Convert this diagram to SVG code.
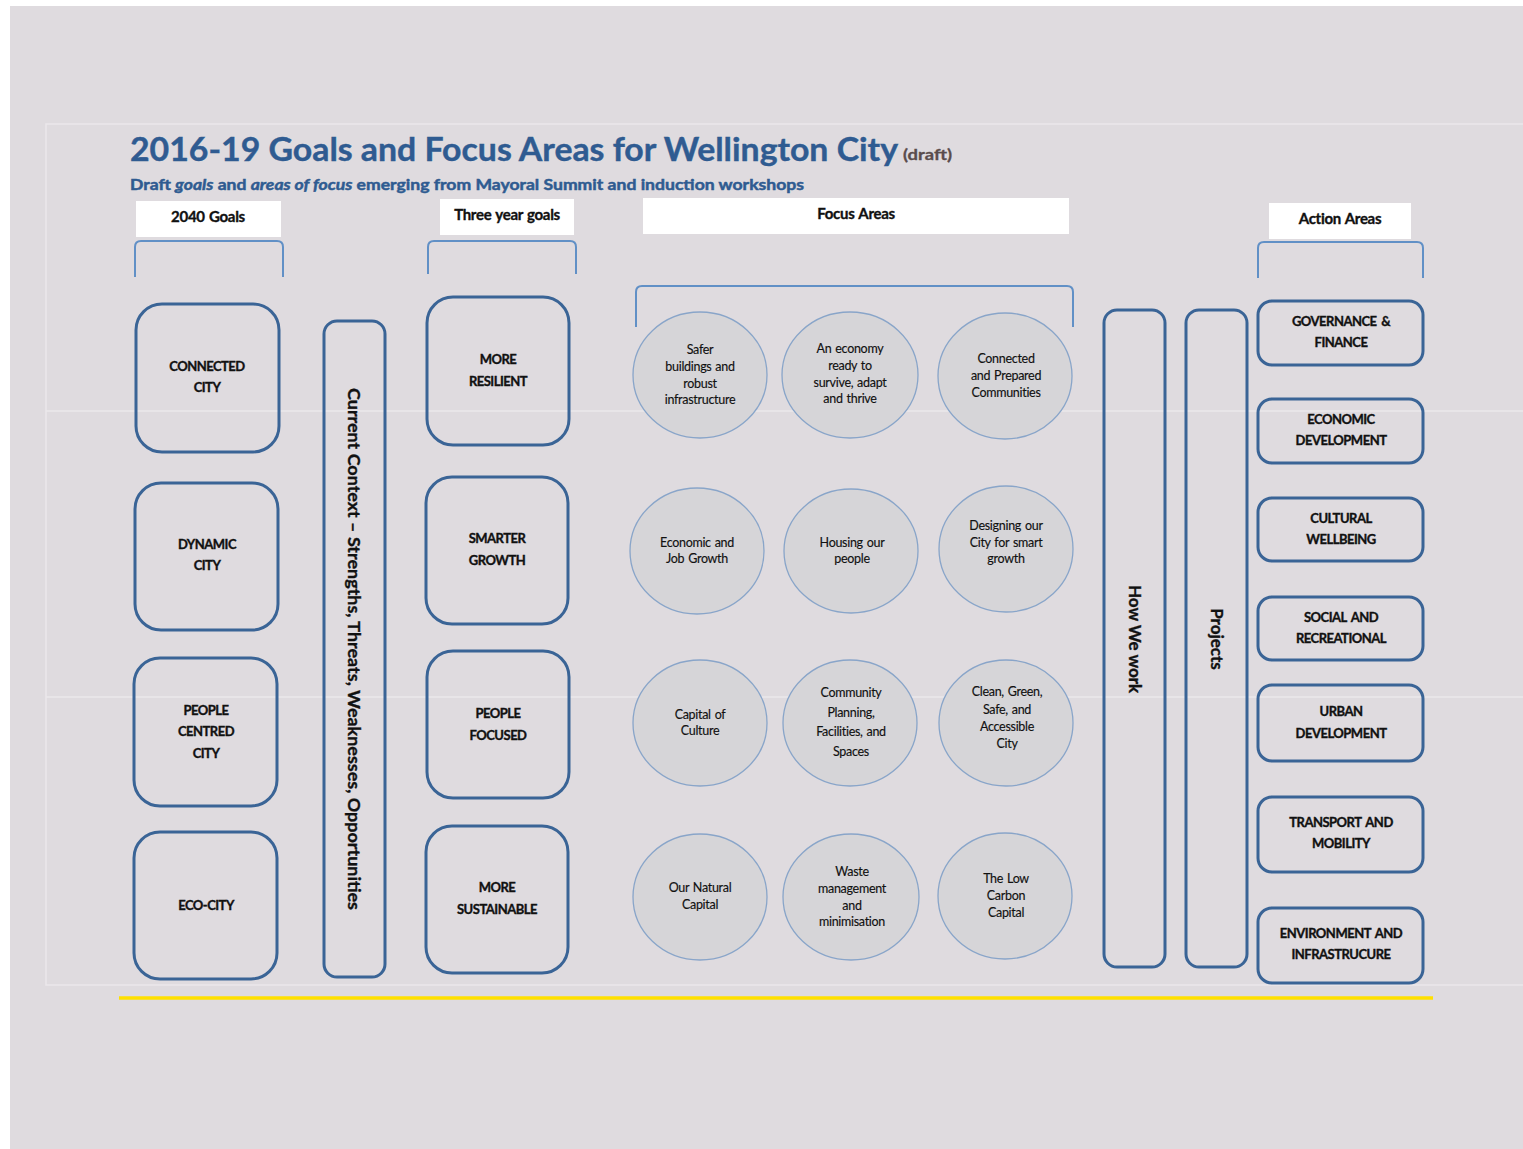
<svg xmlns="http://www.w3.org/2000/svg" width="1523" height="1149" viewBox="0 0 1523 1149">
<defs>
<style>
.bg{fill:#dfdbdf}
.pl{stroke:#ebe8eb;stroke-width:1.5;fill:none}
.hdr{fill:#ffffff}
.ht{font-family:Lato,'Liberation Sans',sans-serif;font-weight:700;font-size:15px;fill:#111;stroke:#111;stroke-width:0.35px;text-anchor:middle;letter-spacing:-0.3px;word-spacing:1px}
.br{fill:none;stroke:#6190c6;stroke-width:2}
.box{fill:none;stroke:#3a6496;stroke-width:3}
.bt{font-family:Lato,'Liberation Sans',sans-serif;font-weight:700;font-size:13px;fill:#111;stroke:#111;stroke-width:0.35px;text-anchor:middle;letter-spacing:-0.5px;word-spacing:2px}
.cir{fill:#d6d5d8;stroke:#89a5c9;stroke-width:1.3}
.ct{font-family:Lato,'Liberation Sans',sans-serif;font-size:12.5px;fill:#111;stroke:#111;stroke-width:0.15px;text-anchor:middle;letter-spacing:-0.3px;word-spacing:1px}
.vt{font-family:Lato,'Liberation Sans',sans-serif;font-weight:700;font-size:17px;fill:#111;stroke:#111;stroke-width:0.35px;text-anchor:middle}
</style>
</defs>
<rect x="0" y="0" width="1523" height="1149" fill="#ffffff"/>
<rect class="bg" x="10" y="6" width="1513" height="1143"/>
<g id="panel">
<path class="pl" d="M1523 124 H46 V985 H1523"/>
<line class="pl" x1="46" y1="411" x2="1523" y2="411"/>
<line class="pl" x1="46" y1="697" x2="1523" y2="697"/>
</g>
<g id="title">
<text x="130" y="161" font-family="Lato,'Liberation Sans',sans-serif" font-weight="700" font-size="32" fill="#2f5b91" stroke="#2f5b91" stroke-width="0.4" textLength="768" lengthAdjust="spacingAndGlyphs">2016-19 Goals and Focus Areas for Wellington City</text>
<text x="903" y="160" font-family="Lato,'Liberation Sans',sans-serif" font-weight="700" font-size="15" fill="#5a4c4c" stroke="#5a4c4c" stroke-width="0.3" textLength="49" lengthAdjust="spacingAndGlyphs">(draft)</text>
<text x="130" y="190" font-family="Lato,'Liberation Sans',sans-serif" font-weight="700" font-size="16" fill="#2f5b91" stroke="#2f5b91" stroke-width="0.5" textLength="674" lengthAdjust="spacingAndGlyphs">Draft <tspan font-style="italic">goals</tspan> and <tspan font-style="italic">areas of focus</tspan> emerging from Mayoral Summit and induction workshops</text>
</g>
<g id="headers">
<rect class="hdr" x="136" y="201" width="145" height="36"/>
<text class="ht" x="208" y="222">2040 Goals</text>
<rect class="hdr" x="440" y="199" width="134" height="36"/>
<text class="ht" x="507" y="220">Three year goals</text>
<rect class="hdr" x="643" y="198" width="426" height="36"/>
<text class="ht" x="856" y="219">Focus Areas</text>
<rect class="hdr" x="1269" y="203" width="142" height="36"/>
<text class="ht" x="1340" y="224">Action Areas</text>
</g>
<g id="connectors">
<path class="br" d="M135 277 V247 Q135 241 141 241 H277 Q283 241 283 247 V277"/>
<path class="br" d="M428 274 V247 Q428 241 434 241 H570 Q576 241 576 247 V274"/>
<path class="br" d="M636 327 V292 Q636 286 642 286 H1067 Q1073 286 1073 292 V327"/>
<path class="br" d="M1258 278 V248 Q1258 242 1264 242 H1417 Q1423 242 1423 248 V278"/>
</g>
<g id="goal-connected-city"><rect class="box" x="136" y="304" width="143" height="148" rx="26"/><text class="bt" x="207" y="371">CONNECTED</text><text class="bt" x="207" y="392">CITY</text></g>
<g id="goal-dynamic-city"><rect class="box" x="135" y="483" width="143" height="147" rx="26"/><text class="bt" x="207" y="549">DYNAMIC</text><text class="bt" x="207" y="570">CITY</text></g>
<g id="goal-people-centred-city"><rect class="box" x="134" y="658" width="143" height="148" rx="26"/><text class="bt" x="206" y="715">PEOPLE</text><text class="bt" x="206" y="736">CENTRED</text><text class="bt" x="206" y="758">CITY</text></g>
<g id="goal-eco-city"><rect class="box" x="134" y="832" width="143" height="147" rx="26"/><text class="bt" x="206" y="910">ECO-CITY</text></g>
<g id="current-context"><rect class="box" x="324" y="321" width="61" height="656" rx="13"/><text class="vt" transform="rotate(90 354 649)" x="354" y="655" textLength="522" lengthAdjust="spacingAndGlyphs">Current Context – Strengths, Threats, Weaknesses, Opportunities</text></g>
<g id="three-more-resilient"><rect class="box" x="427" y="297" width="142" height="148" rx="26"/><text class="bt" x="498" y="364">MORE</text><text class="bt" x="498" y="386">RESILIENT</text></g>
<g id="three-smarter-growth"><rect class="box" x="426" y="477" width="142" height="147" rx="26"/><text class="bt" x="497" y="543">SMARTER</text><text class="bt" x="497" y="565">GROWTH</text></g>
<g id="three-people-focused"><rect class="box" x="427" y="651" width="142" height="147" rx="26"/><text class="bt" x="498" y="718">PEOPLE</text><text class="bt" x="498" y="740">FOCUSED</text></g>
<g id="three-more-sustainable"><rect class="box" x="426" y="826" width="142" height="147" rx="26"/><text class="bt" x="497" y="892">MORE</text><text class="bt" x="497" y="914">SUSTAINABLE</text></g>
<g id="focus-safer"><ellipse class="cir" cx="700" cy="375" rx="67" ry="63"/><text class="ct" x="700" y="354">Safer</text><text class="ct" x="700" y="371">buildings and</text><text class="ct" x="700" y="388">robust</text><text class="ct" x="700" y="404">infrastructure</text></g>
<g id="focus-economy"><ellipse class="cir" cx="850" cy="375" rx="68" ry="63"/><text class="ct" x="850" y="353">An economy</text><text class="ct" x="850" y="370">ready to</text><text class="ct" x="850" y="387">survive, adapt</text><text class="ct" x="850" y="403">and thrive</text></g>
<g id="focus-connected"><ellipse class="cir" cx="1005" cy="376" rx="67" ry="63"/><text class="ct" x="1006" y="363">Connected</text><text class="ct" x="1006" y="380">and Prepared</text><text class="ct" x="1006" y="397">Communities</text></g>
<g id="focus-economic"><ellipse class="cir" cx="697" cy="551" rx="67" ry="63"/><text class="ct" x="697" y="547">Economic and</text><text class="ct" x="697" y="563">Job Growth</text></g>
<g id="focus-housing"><ellipse class="cir" cx="851" cy="551" rx="67" ry="62"/><text class="ct" x="852" y="547">Housing our</text><text class="ct" x="852" y="563">people</text></g>
<g id="focus-designing"><ellipse class="cir" cx="1006" cy="549" rx="67" ry="63"/><text class="ct" x="1006" y="530">Designing our</text><text class="ct" x="1006" y="547">City for smart</text><text class="ct" x="1006" y="563">growth</text></g>
<g id="focus-capital-culture"><ellipse class="cir" cx="700" cy="723" rx="67" ry="63"/><text class="ct" x="700" y="719">Capital of</text><text class="ct" x="700" y="735">Culture</text></g>
<g id="focus-community"><ellipse class="cir" cx="850" cy="723" rx="67" ry="63"/><text class="ct" x="851" y="697">Community</text><text class="ct" x="851" y="717">Planning,</text><text class="ct" x="851" y="736">Facilities, and</text><text class="ct" x="851" y="756">Spaces</text></g>
<g id="focus-clean"><ellipse class="cir" cx="1006" cy="723" rx="67" ry="63"/><text class="ct" x="1007" y="696">Clean, Green,</text><text class="ct" x="1007" y="714">Safe, and</text><text class="ct" x="1007" y="731">Accessible</text><text class="ct" x="1007" y="748">City</text></g>
<g id="focus-natural"><ellipse class="cir" cx="700" cy="897" rx="67" ry="63"/><text class="ct" x="700" y="892">Our Natural</text><text class="ct" x="700" y="909">Capital</text></g>
<g id="focus-waste"><ellipse class="cir" cx="851" cy="897" rx="68" ry="63"/><text class="ct" x="852" y="876">Waste</text><text class="ct" x="852" y="893">management</text><text class="ct" x="852" y="910">and</text><text class="ct" x="852" y="926">minimisation</text></g>
<g id="focus-low-carbon"><ellipse class="cir" cx="1005" cy="896" rx="67" ry="63"/><text class="ct" x="1006" y="883">The Low</text><text class="ct" x="1006" y="900">Carbon</text><text class="ct" x="1006" y="917">Capital</text></g>
<g id="how-we-work"><rect class="box" x="1104" y="310" width="61" height="657" rx="13"/><text class="vt" transform="rotate(90 1135 639)" x="1135" y="645">How We work</text></g>
<g id="projects"><rect class="box" x="1186" y="310" width="61" height="657" rx="13"/><text class="vt" transform="rotate(90 1217 639)" x="1217" y="645">Projects</text></g>
<g id="action-governance"><rect class="box" x="1258" y="301" width="165" height="64" rx="14"/><text class="bt" x="1341" y="326">GOVERNANCE &amp;</text><text class="bt" x="1341" y="347">FINANCE</text></g>
<g id="action-economic"><rect class="box" x="1258" y="399" width="165" height="64" rx="14"/><text class="bt" x="1341" y="424">ECONOMIC</text><text class="bt" x="1341" y="445">DEVELOPMENT</text></g>
<g id="action-cultural"><rect class="box" x="1258" y="498" width="165" height="63" rx="14"/><text class="bt" x="1341" y="523">CULTURAL</text><text class="bt" x="1341" y="544">WELLBEING</text></g>
<g id="action-social"><rect class="box" x="1258" y="597" width="165" height="63" rx="14"/><text class="bt" x="1341" y="622">SOCIAL AND</text><text class="bt" x="1341" y="643">RECREATIONAL</text></g>
<g id="action-urban"><rect class="box" x="1258" y="685" width="165" height="76" rx="14"/><text class="bt" x="1341" y="716">URBAN</text><text class="bt" x="1341" y="738">DEVELOPMENT</text></g>
<g id="action-transport"><rect class="box" x="1258" y="797" width="165" height="75" rx="14"/><text class="bt" x="1341" y="827">TRANSPORT AND</text><text class="bt" x="1341" y="848">MOBILITY</text></g>
<g id="action-environment"><rect class="box" x="1258" y="908" width="165" height="75" rx="14"/><text class="bt" x="1341" y="938">ENVIRONMENT AND</text><text class="bt" x="1341" y="959">INFRASTRUCURE</text></g>
<line x1="119" y1="998" x2="1433" y2="998" stroke="#ffe000" stroke-width="3.5"/>
</svg>
